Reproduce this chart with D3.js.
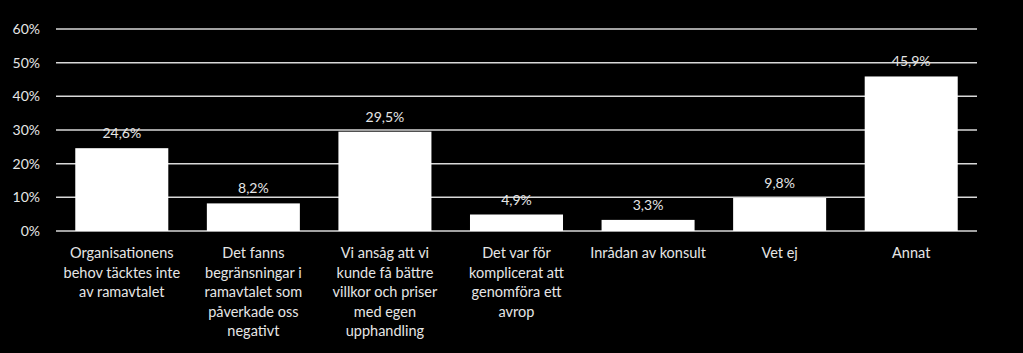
<!DOCTYPE html>
<html><head><meta charset="utf-8">
<script src="https://cdn.jsdelivr.net/npm/d3@7"></script>
<style>html,body{margin:0;padding:0;background:#000;}svg{display:block;}</style>
</head><body>
<svg id="chart" width="1023" height="353"></svg>
<script>
const categories = [
  "Organisationens\nbehov täcktes inte\nav ramavtalet",
  "Det fanns\nbegränsningar i\nramavtalet som\npåverkade oss\nnegativt",
  "Vi ansåg att vi\nkunde få bättre\nvillkor och priser\nmed egen\nupphandling",
  "Det var för\nkomplicerat att\ngenomföra ett\navrop",
  "Inrådan av konsult",
  "Vet ej",
  "Annat"
];
const values = [24.6, 8.2, 29.5, 4.9, 3.3, 9.8, 45.9];
const yTicks = [0, 10, 20, 30, 40, 50, 60];

const svg = d3.select("#chart");
const W = 1023, H = 353;
const m = {left: 56, right: 46, top: 29, bottom: 122};
const font = "Lato, 'Open Sans', sans-serif";
const textCol = "#e6e6e6";

svg.append("rect").attr("width", W).attr("height", H).attr("fill", "#000");

const x = d3.scaleBand().domain(categories).range([m.left, W - m.right])
  .paddingInner(0.293).paddingOuter(0.1465);
const y = d3.scaleLinear().domain([0, 60]).range([H - m.bottom, m.top]);

// gridlines
svg.append("g").selectAll("line").data(yTicks).join("line")
  .attr("x1", m.left).attr("x2", W - m.right)
  .attr("y1", d => y(d)).attr("y2", d => y(d))
  .attr("stroke", "#d9d9d9").attr("stroke-width", 1.5);

// y axis labels
const yAxis = d3.axisLeft(y).tickValues(yTicks).tickFormat(d => d + "%").tickSize(0).tickPadding(16);
const ga = svg.append("g").attr("transform", `translate(${m.left},0)`).call(yAxis);
ga.select(".domain").remove();
ga.selectAll("text").attr("fill", textCol).style("font-family", font).style("font-size", "14px");

// bars
svg.append("g").selectAll("rect").data(values).join("rect")
  .attr("x", (d, i) => x(categories[i]))
  .attr("width", x.bandwidth())
  .attr("y", d => y(d))
  .attr("height", d => y(0) - y(d))
  .attr("fill", "#fff");

// value labels
svg.append("g").selectAll("text").data(values).join("text")
  .attr("x", (d, i) => x(categories[i]) + x.bandwidth() / 2)
  .attr("y", d => y(d) - 10)
  .attr("text-anchor", "middle")
  .attr("fill", textCol)
  .style("font-family", font).style("font-size", "14px")
  .text(d => d.toFixed(1).replace(".", ",") + "%");

// category labels
const cl = svg.append("g").selectAll("text").data(categories).join("text")
  .attr("text-anchor", "middle")
  .attr("fill", textCol)
  .style("font-family", font).style("font-size", "14.5px");
cl.each(function(d) {
  const t = d3.select(this);
  const cx = x(d) + x.bandwidth() / 2;
  d.split("\n").forEach((line, j) => {
    t.append("tspan").attr("x", cx).attr("y", 258 + j * 19.5).text(line);
  });
});
</script>
</body></html>
